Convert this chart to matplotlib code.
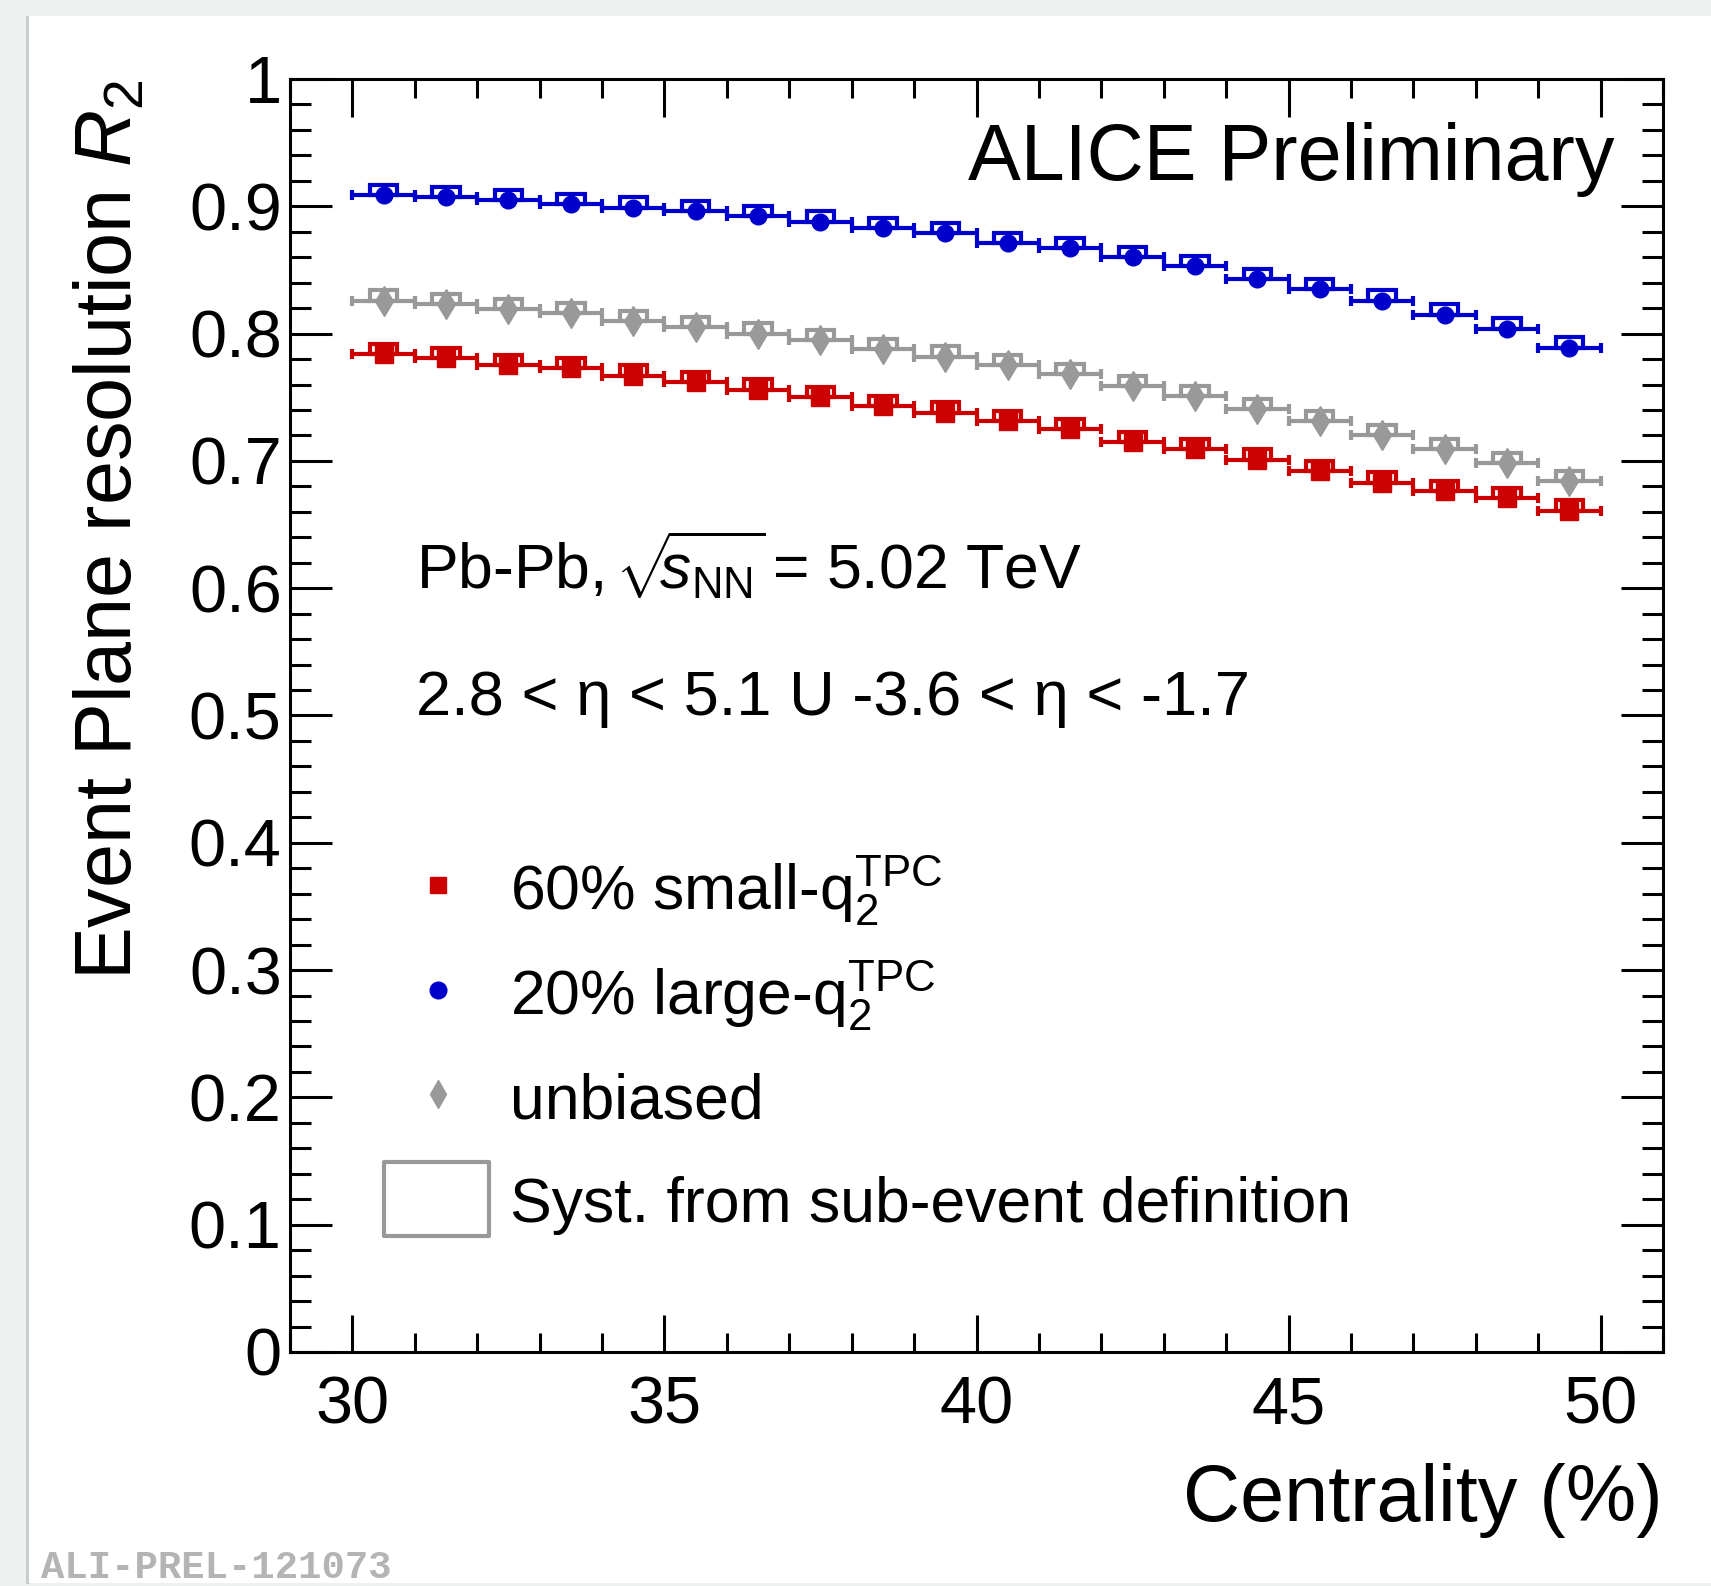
import numpy as np
import matplotlib
matplotlib.use('Agg')
import matplotlib.pyplot as plt
from matplotlib.patches import Rectangle
from matplotlib.ticker import MultipleLocator, FuncFormatter

plt.rcParams['font.family'] = ['Liberation Sans', 'DejaVu Sans']
plt.rcParams['mathtext.fontset'] = 'custom'
plt.rcParams['mathtext.rm'] = 'Liberation Sans'
plt.rcParams['mathtext.it'] = 'Liberation Sans:italic'
plt.rcParams['mathtext.bf'] = 'Liberation Sans:bold'

# centrality bin centres (%), bins are 1% wide
cent = [30.5, 31.5, 32.5, 33.5, 34.5, 35.5, 36.5, 37.5, 38.5, 39.5,
        40.5, 41.5, 42.5, 43.5, 44.5, 45.5, 46.5, 47.5, 48.5, 49.5]
bin_half = 0.5

# event plane resolution R2
r2_small = [0.784, 0.781, 0.775, 0.773, 0.767, 0.762, 0.756, 0.750, 0.743, 0.738,
            0.731, 0.725, 0.715, 0.709, 0.701, 0.692, 0.683, 0.676, 0.671, 0.661]
r2_large = [0.909, 0.907, 0.905, 0.902, 0.899, 0.896, 0.892, 0.888, 0.883, 0.879,
            0.871, 0.867, 0.860, 0.853, 0.843, 0.835, 0.826, 0.815, 0.804, 0.789]
r2_unbiased = [0.826, 0.823, 0.819, 0.816, 0.810, 0.805, 0.800, 0.795, 0.788, 0.782,
               0.775, 0.768, 0.759, 0.751, 0.741, 0.731, 0.720, 0.709, 0.698, 0.684]

# systematic from sub-event definition (one sided, upwards)
syst_small = [0.008] * 20
syst_large = [0.008] * 20
syst_unbiased = [0.008] * 20

labels = ['60% small-q$_2^{\\mathrm{TPC}}$', '20% large-q$_2^{\\mathrm{TPC}}$', 'unbiased']
syst_label = 'Syst. from sub-event definition'

red = '#cc0000'
blue = '#0000cc'
grey = '#999999'

fig = plt.figure(figsize=(17.11, 15.86), dpi=100)
fig.patch.set_facecolor('#eff1f1')
# white canvas with a little shadow, like the original screenshot
fig.patches.append(Rectangle((26 / 1711, 2 / 1586), 4 / 1711, 1 - 18 / 1586,
                             transform=fig.transFigure, facecolor='#c9cdcd',
                             edgecolor='none', zorder=-10))
fig.patches.append(Rectangle((29 / 1711, 3 / 1586), 1, 1 - 19 / 1586,
                             transform=fig.transFigure, facecolor='white',
                             edgecolor='none', zorder=-9))

ax = fig.add_axes([290 / 1711, 1 - 1352 / 1586, 1373 / 1711, 1273 / 1586])
ax.set_zorder(1)

series = [
    (r2_small, syst_small, red, 's', 13.5),
    (r2_unbiased, syst_unbiased, grey, 'd', 15),
    (r2_large, syst_large, blue, 'o', 12),
]
box_hw = 0.22
lw = 3.0
for vals, syst, col, mk, ms in series:
    for xc, yv, s in zip(cent, vals, syst):
        ax.add_patch(Rectangle((xc - box_hw, yv), 2 * box_hw, s, fill=False,
                               edgecolor=col, linewidth=lw, zorder=2))
    ax.errorbar(cent, vals, xerr=bin_half, fmt=mk, color=col, ms=ms,
                elinewidth=lw, capsize=3.6, capthick=lw, zorder=3)

ax.set_xlim(29, 51)
ax.set_ylim(0, 1)
ax.xaxis.set_major_locator(MultipleLocator(5))
ax.xaxis.set_minor_locator(MultipleLocator(1))
ax.yaxis.set_major_locator(MultipleLocator(0.1))
ax.yaxis.set_minor_locator(MultipleLocator(0.02))
ax.yaxis.set_major_formatter(FuncFormatter(lambda v, p: '%g' % round(v, 2)))

for sp in ax.spines.values():
    sp.set_linewidth(2.2)
ax.tick_params(which='both', direction='in', top=True, right=True, width=2.2)
ax.tick_params(axis='y', which='major', length=30, pad=6, labelsize=48)
ax.tick_params(axis='y', which='minor', length=15)
ax.tick_params(axis='x', which='major', length=27, pad=17, labelsize=48)
ax.tick_params(axis='x', which='minor', length=13.5)

ax.set_ylabel('Event Plane resolution $R_2$', fontsize=57, loc='top')
ax.yaxis.set_label_coords(-0.103, 1.0)
ax.set_xlabel('Centrality (%)', fontsize=57, loc='right')
ax.xaxis.set_label_coords(1.0, -0.087)

ax.text(50.23, 0.9207, 'ALICE Preliminary', fontsize=57, ha='right', va='baseline')
ax.text(31.02, 0.5994, 'Pb-Pb, $\\!\\sqrt{\\!\\!s_{\\mathrm{NN}}}\\!$ = 5.02 TeV',
        fontsize=45, va='baseline')
ax.text(31.02, 0.5004, '2.8 < \u03b7 < 5.1 U -3.6 < \u03b7 < -1.7', fontsize=45.5,
        va='baseline')

# legend, drawn by hand to keep the rows evenly spaced
leg_x, txt_x = 31.37, 32.52
leg_y = [0.367, 0.2844, 0.2023]
leg_style = [(red, 's', 12), (blue, 'o', 12), (grey, 'd', 14)]
for yy, lab, (col, mk, ms) in zip(leg_y, labels, leg_style):
    ax.plot([leg_x], [yy], marker=mk, color=col, ms=ms, linestyle='none')
    ax.text(txt_x, yy - 0.019, lab, fontsize=45, va='baseline')
ax.add_patch(Rectangle((30.51, 0.091), 1.68, 0.058, fill=False, edgecolor=grey,
                       linewidth=lw, joinstyle='round'))
ax.text(txt_x, 0.1021, syst_label, fontsize=45, va='baseline')

fig.text(41 / 1711, 1 - 1578 / 1586, 'ALI-PREL-121073', family='Liberation Mono',
         weight='bold', color='#b4b4b4', fontsize=28, va='baseline')

fig.savefig('out.png', dpi=100)
